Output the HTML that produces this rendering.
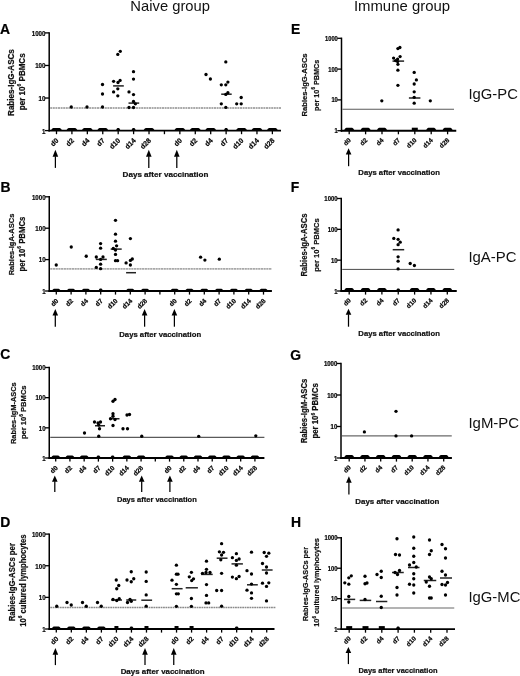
<!DOCTYPE html><html><head><meta charset="utf-8"><style>html,body{margin:0;padding:0;background:#fff;}svg{display:block;will-change:transform;}text{font-family:"Liberation Sans",sans-serif;}text[font-weight=bold]{stroke:#111;stroke-width:0.22px;}</style></head><body>
<svg width="520" height="676" viewBox="0 0 520 676">
<rect width="520" height="676" fill="#fff"/>
<g id="pA"><line x1="50.2" y1="108" x2="281" y2="108" stroke="#8f8f8f" stroke-width="1.7" stroke-dasharray="2 0.6"/><line x1="49.2" y1="32.2" x2="49.2" y2="131.6" stroke="#000" stroke-width="1.5"/><line x1="45" y1="130.6" x2="49.2" y2="130.6" stroke="#000" stroke-width="1.3"/><text x="45.5" y="133.52" font-size="7.3" font-weight="bold" text-anchor="end" textLength="3.45" lengthAdjust="spacingAndGlyphs" fill="#000">1</text><line x1="45" y1="98.03" x2="49.2" y2="98.03" stroke="#000" stroke-width="1.3"/><text x="45.5" y="100.95" font-size="7.3" font-weight="bold" text-anchor="end" textLength="6.9" lengthAdjust="spacingAndGlyphs" fill="#000">10</text><line x1="45" y1="65.47" x2="49.2" y2="65.47" stroke="#000" stroke-width="1.3"/><text x="45.5" y="68.39" font-size="7.3" font-weight="bold" text-anchor="end" textLength="10.35" lengthAdjust="spacingAndGlyphs" fill="#000">100</text><line x1="45" y1="32.9" x2="49.2" y2="32.9" stroke="#000" stroke-width="1.3"/><text x="45.5" y="35.82" font-size="7.3" font-weight="bold" text-anchor="end" textLength="13.8" lengthAdjust="spacingAndGlyphs" fill="#000">1000</text><line x1="48.45" y1="130.6" x2="281" y2="130.6" stroke="#000" stroke-width="1.9"/><line x1="56.5" y1="130.6" x2="56.5" y2="134.2" stroke="#000" stroke-width="1.3"/><path d="M50.5 130.9Q52.2 127.9 53.2 127.9L59.8 127.9Q60.8 127.9 62.5 130.9Z" fill="#000"/><text x="59.1" y="140.9" font-size="7" font-weight="bold" text-anchor="end" transform="rotate(-45 59.1 140.9)" fill="#000">d0</text><line x1="71.92" y1="130.6" x2="71.92" y2="134.2" stroke="#000" stroke-width="1.3"/><path d="M65.92 130.9Q67.62 127.9 68.62 127.9L75.22 127.9Q76.22 127.9 77.92 130.9Z" fill="#000"/><text x="74.52" y="140.9" font-size="7" font-weight="bold" text-anchor="end" transform="rotate(-45 74.52 140.9)" fill="#000">d2</text><line x1="87.34" y1="130.6" x2="87.34" y2="134.2" stroke="#000" stroke-width="1.3"/><path d="M81.34 130.9Q83.04 127.9 84.04 127.9L90.64 127.9Q91.64 127.9 93.34 130.9Z" fill="#000"/><text x="89.94" y="140.9" font-size="7" font-weight="bold" text-anchor="end" transform="rotate(-45 89.94 140.9)" fill="#000">d4</text><line x1="102.76" y1="130.6" x2="102.76" y2="134.2" stroke="#000" stroke-width="1.3"/><path d="M96.76 130.9Q98.46 127.9 99.46 127.9L106.06 127.9Q107.06 127.9 108.76 130.9Z" fill="#000"/><text x="105.36" y="140.9" font-size="7" font-weight="bold" text-anchor="end" transform="rotate(-45 105.36 140.9)" fill="#000">d7</text><line x1="118.18" y1="130.6" x2="118.18" y2="134.2" stroke="#000" stroke-width="1.3"/><path d="M115.78 130.9Q116.78 128 117.38 128L118.98 128Q119.58 128 120.58 130.9Z" fill="#000"/><text x="120.78" y="140.9" font-size="7" font-weight="bold" text-anchor="end" transform="rotate(-45 120.78 140.9)" fill="#000">d10</text><line x1="133.6" y1="130.6" x2="133.6" y2="134.2" stroke="#000" stroke-width="1.3"/><path d="M131.2 130.9Q132.2 128 132.8 128L134.4 128Q135 128 136 130.9Z" fill="#000"/><text x="136.2" y="140.9" font-size="7" font-weight="bold" text-anchor="end" transform="rotate(-45 136.2 140.9)" fill="#000">d14</text><line x1="149.02" y1="130.6" x2="149.02" y2="134.2" stroke="#000" stroke-width="1.3"/><path d="M143.02 130.9Q144.72 127.9 145.72 127.9L152.32 127.9Q153.32 127.9 155.02 130.9Z" fill="#000"/><text x="151.62" y="140.9" font-size="7" font-weight="bold" text-anchor="end" transform="rotate(-45 151.62 140.9)" fill="#000">d28</text><line x1="164.44" y1="130.6" x2="164.44" y2="134.2" stroke="#000" stroke-width="1.3"/><line x1="179.86" y1="130.6" x2="179.86" y2="134.2" stroke="#000" stroke-width="1.3"/><path d="M173.86 130.9Q175.56 127.9 176.56 127.9L183.16 127.9Q184.16 127.9 185.86 130.9Z" fill="#000"/><text x="182.46" y="140.9" font-size="7" font-weight="bold" text-anchor="end" transform="rotate(-45 182.46 140.9)" fill="#000">d0</text><line x1="195.28" y1="130.6" x2="195.28" y2="134.2" stroke="#000" stroke-width="1.3"/><path d="M189.28 130.9Q190.98 127.9 191.98 127.9L198.58 127.9Q199.58 127.9 201.28 130.9Z" fill="#000"/><text x="197.88" y="140.9" font-size="7" font-weight="bold" text-anchor="end" transform="rotate(-45 197.88 140.9)" fill="#000">d2</text><line x1="210.7" y1="130.6" x2="210.7" y2="134.2" stroke="#000" stroke-width="1.3"/><path d="M204.7 130.9Q206.4 127.9 207.4 127.9L214 127.9Q215 127.9 216.7 130.9Z" fill="#000"/><text x="213.3" y="140.9" font-size="7" font-weight="bold" text-anchor="end" transform="rotate(-45 213.3 140.9)" fill="#000">d4</text><line x1="226.12" y1="130.6" x2="226.12" y2="134.2" stroke="#000" stroke-width="1.3"/><path d="M223.72 130.9Q224.72 128 225.32 128L226.92 128Q227.52 128 228.52 130.9Z" fill="#000"/><text x="228.72" y="140.9" font-size="7" font-weight="bold" text-anchor="end" transform="rotate(-45 228.72 140.9)" fill="#000">d7</text><line x1="241.54" y1="130.6" x2="241.54" y2="134.2" stroke="#000" stroke-width="1.3"/><path d="M235.54 130.9Q237.24 127.9 238.24 127.9L244.84 127.9Q245.84 127.9 247.54 130.9Z" fill="#000"/><text x="244.14" y="140.9" font-size="7" font-weight="bold" text-anchor="end" transform="rotate(-45 244.14 140.9)" fill="#000">d10</text><line x1="256.96" y1="130.6" x2="256.96" y2="134.2" stroke="#000" stroke-width="1.3"/><path d="M250.96 130.9Q252.66 127.9 253.66 127.9L260.26 127.9Q261.26 127.9 262.96 130.9Z" fill="#000"/><text x="259.56" y="140.9" font-size="7" font-weight="bold" text-anchor="end" transform="rotate(-45 259.56 140.9)" fill="#000">d14</text><line x1="272.38" y1="130.6" x2="272.38" y2="134.2" stroke="#000" stroke-width="1.3"/><path d="M266.38 130.9Q268.08 127.9 269.08 127.9L275.68 127.9Q276.68 127.9 278.38 130.9Z" fill="#000"/><text x="274.98" y="140.9" font-size="7" font-weight="bold" text-anchor="end" transform="rotate(-45 274.98 140.9)" fill="#000">d28</text><line x1="113.1" y1="85.9" x2="123.8" y2="85.9" stroke="#222" stroke-width="1.5"/><line x1="128.5" y1="103.1" x2="139.2" y2="103.1" stroke="#222" stroke-width="1.5"/><line x1="221.2" y1="94.2" x2="231.7" y2="94.2" stroke="#222" stroke-width="1.5"/><circle cx="71.25" cy="107" r="1.65" fill="#000"/><circle cx="87" cy="107" r="1.65" fill="#000"/><circle cx="102.5" cy="84.5" r="1.65" fill="#000"/><circle cx="102.5" cy="94" r="1.65" fill="#000"/><circle cx="102.5" cy="107" r="1.65" fill="#000"/><circle cx="113.6" cy="81.3" r="1.65" fill="#000"/><circle cx="118" cy="82.5" r="1.65" fill="#000"/><circle cx="120.1" cy="80.4" r="1.65" fill="#000"/><circle cx="117.8" cy="88.8" r="1.65" fill="#000"/><circle cx="113.6" cy="91.9" r="1.65" fill="#000"/><circle cx="117.8" cy="95.8" r="1.65" fill="#000"/><circle cx="120.3" cy="51.3" r="1.65" fill="#000"/><circle cx="117.8" cy="54.4" r="1.65" fill="#000"/><circle cx="133.5" cy="71.7" r="1.65" fill="#000"/><circle cx="133.5" cy="79.1" r="1.65" fill="#000"/><circle cx="129" cy="91.9" r="1.65" fill="#000"/><circle cx="133.5" cy="94.6" r="1.65" fill="#000"/><circle cx="133.5" cy="101.5" r="1.65" fill="#000"/><circle cx="135.4" cy="103.8" r="1.65" fill="#000"/><circle cx="129" cy="107.5" r="1.65" fill="#000"/><circle cx="133.5" cy="107.5" r="1.65" fill="#000"/><circle cx="206" cy="74.5" r="1.65" fill="#000"/><circle cx="210.4" cy="79" r="1.65" fill="#000"/><circle cx="225.8" cy="61.9" r="1.65" fill="#000"/><circle cx="221.3" cy="84.8" r="1.65" fill="#000"/><circle cx="225.8" cy="84.8" r="1.65" fill="#000"/><circle cx="227.9" cy="82.1" r="1.65" fill="#000"/><circle cx="221.3" cy="103.8" r="1.65" fill="#000"/><circle cx="225.8" cy="107.4" r="1.65" fill="#000"/><circle cx="227.9" cy="92.7" r="1.65" fill="#000"/><circle cx="225.8" cy="94.4" r="1.65" fill="#000"/><circle cx="236.7" cy="103.8" r="1.65" fill="#000"/><circle cx="241.2" cy="103.8" r="1.65" fill="#000"/><circle cx="241.2" cy="97.5" r="1.65" fill="#000"/><line x1="55.4" y1="156.3" x2="55.4" y2="167.9" stroke="#000" stroke-width="1.25"/><path d="M55.4 149.8L52.6 156.8L58.2 156.8Z" fill="#000"/><line x1="148.8" y1="156.3" x2="148.8" y2="167.9" stroke="#000" stroke-width="1.25"/><path d="M148.8 149.8L146 156.8L151.6 156.8Z" fill="#000"/><line x1="176.8" y1="156.3" x2="176.8" y2="167.9" stroke="#000" stroke-width="1.25"/><path d="M176.8 149.8L174 156.8L179.6 156.8Z" fill="#000"/><text x="122.56" y="176.8" font-size="7.99" font-weight="bold" textLength="85.84" lengthAdjust="spacingAndGlyphs" fill="#111">Days after vaccination</text><text x="0.1" y="34" font-size="13.9" font-weight="bold" fill="#000">A</text><text x="0" y="0" font-size="8.6" font-weight="bold" transform="translate(13.8 115.94) rotate(-90)" textLength="66.77" lengthAdjust="spacingAndGlyphs" fill="#111">Rabies-IgG-ASCs</text><text x="0" y="0" font-size="8.54" font-weight="bold" transform="translate(25 110.13) rotate(-90)" textLength="56.76" lengthAdjust="spacingAndGlyphs" fill="#111">per&#160;10<tspan font-size="5.29" dy="-3.59">6</tspan><tspan dy="3.59">&#160;PBMCs</tspan></text></g>
<g id="pB"><line x1="50.25" y1="268.9" x2="271.9" y2="268.9" stroke="#a8a8a8" stroke-width="1.9" stroke-dasharray="2.2 0.5"/><line x1="49.25" y1="196.1" x2="49.25" y2="292" stroke="#000" stroke-width="1.5"/><line x1="45.05" y1="291" x2="49.25" y2="291" stroke="#000" stroke-width="1.3"/><text x="45.55" y="293.8" font-size="7" font-weight="bold" text-anchor="end" textLength="3.4" lengthAdjust="spacingAndGlyphs" fill="#000">1</text><line x1="45.05" y1="259.6" x2="49.25" y2="259.6" stroke="#000" stroke-width="1.3"/><text x="45.55" y="262.4" font-size="7" font-weight="bold" text-anchor="end" textLength="6.8" lengthAdjust="spacingAndGlyphs" fill="#000">10</text><line x1="45.05" y1="228.2" x2="49.25" y2="228.2" stroke="#000" stroke-width="1.3"/><text x="45.55" y="231" font-size="7" font-weight="bold" text-anchor="end" textLength="10.2" lengthAdjust="spacingAndGlyphs" fill="#000">100</text><line x1="45.05" y1="196.8" x2="49.25" y2="196.8" stroke="#000" stroke-width="1.3"/><text x="45.55" y="199.6" font-size="7" font-weight="bold" text-anchor="end" textLength="13.6" lengthAdjust="spacingAndGlyphs" fill="#000">1000</text><line x1="48.5" y1="291" x2="271.9" y2="291" stroke="#000" stroke-width="1.9"/><line x1="56.3" y1="291" x2="56.3" y2="294.6" stroke="#000" stroke-width="1.3"/><path d="M51.5 291.3Q52.9 288.7 53.9 288.7L58.7 288.7Q59.7 288.7 61.1 291.3Z" fill="#000"/><text x="58.9" y="301.3" font-size="6.6" font-weight="bold" text-anchor="end" transform="rotate(-45 58.9 301.3)" fill="#000">d0</text><line x1="71.1" y1="291" x2="71.1" y2="294.6" stroke="#000" stroke-width="1.3"/><path d="M66.3 291.3Q67.7 288.7 68.7 288.7L73.5 288.7Q74.5 288.7 75.9 291.3Z" fill="#000"/><text x="73.7" y="301.3" font-size="6.6" font-weight="bold" text-anchor="end" transform="rotate(-45 73.7 301.3)" fill="#000">d2</text><line x1="85.9" y1="291" x2="85.9" y2="294.6" stroke="#000" stroke-width="1.3"/><path d="M81.1 291.3Q82.5 288.7 83.5 288.7L88.3 288.7Q89.3 288.7 90.7 291.3Z" fill="#000"/><text x="88.5" y="301.3" font-size="6.6" font-weight="bold" text-anchor="end" transform="rotate(-45 88.5 301.3)" fill="#000">d4</text><line x1="100.7" y1="291" x2="100.7" y2="294.6" stroke="#000" stroke-width="1.3"/><path d="M98.3 291.3Q99.3 288.4 99.9 288.4L101.5 288.4Q102.1 288.4 103.1 291.3Z" fill="#000"/><text x="103.3" y="301.3" font-size="6.6" font-weight="bold" text-anchor="end" transform="rotate(-45 103.3 301.3)" fill="#000">d7</text><line x1="115.5" y1="291" x2="115.5" y2="294.6" stroke="#000" stroke-width="1.3"/><text x="118.1" y="301.3" font-size="6.6" font-weight="bold" text-anchor="end" transform="rotate(-45 118.1 301.3)" fill="#000">d10</text><line x1="130.3" y1="291" x2="130.3" y2="294.6" stroke="#000" stroke-width="1.3"/><path d="M125.5 291.3Q126.9 288.7 127.9 288.7L132.7 288.7Q133.7 288.7 135.1 291.3Z" fill="#000"/><text x="132.9" y="301.3" font-size="6.6" font-weight="bold" text-anchor="end" transform="rotate(-45 132.9 301.3)" fill="#000">d14</text><line x1="145.1" y1="291" x2="145.1" y2="294.6" stroke="#000" stroke-width="1.3"/><path d="M140.3 291.3Q141.7 288.7 142.7 288.7L147.5 288.7Q148.5 288.7 149.9 291.3Z" fill="#000"/><text x="147.7" y="301.3" font-size="6.6" font-weight="bold" text-anchor="end" transform="rotate(-45 147.7 301.3)" fill="#000">d28</text><line x1="159.9" y1="291" x2="159.9" y2="294.6" stroke="#000" stroke-width="1.3"/><line x1="174.7" y1="291" x2="174.7" y2="294.6" stroke="#000" stroke-width="1.3"/><path d="M169.9 291.3Q171.3 288.7 172.3 288.7L177.1 288.7Q178.1 288.7 179.5 291.3Z" fill="#000"/><text x="177.3" y="301.3" font-size="6.6" font-weight="bold" text-anchor="end" transform="rotate(-45 177.3 301.3)" fill="#000">d0</text><line x1="189.5" y1="291" x2="189.5" y2="294.6" stroke="#000" stroke-width="1.3"/><path d="M184.7 291.3Q186.1 288.7 187.1 288.7L191.9 288.7Q192.9 288.7 194.3 291.3Z" fill="#000"/><text x="192.1" y="301.3" font-size="6.6" font-weight="bold" text-anchor="end" transform="rotate(-45 192.1 301.3)" fill="#000">d2</text><line x1="204.3" y1="291" x2="204.3" y2="294.6" stroke="#000" stroke-width="1.3"/><path d="M199.5 291.3Q200.9 288.7 201.9 288.7L206.7 288.7Q207.7 288.7 209.1 291.3Z" fill="#000"/><text x="206.9" y="301.3" font-size="6.6" font-weight="bold" text-anchor="end" transform="rotate(-45 206.9 301.3)" fill="#000">d4</text><line x1="219.1" y1="291" x2="219.1" y2="294.6" stroke="#000" stroke-width="1.3"/><path d="M214.3 291.3Q215.7 288.7 216.7 288.7L221.5 288.7Q222.5 288.7 223.9 291.3Z" fill="#000"/><text x="221.7" y="301.3" font-size="6.6" font-weight="bold" text-anchor="end" transform="rotate(-45 221.7 301.3)" fill="#000">d7</text><line x1="233.9" y1="291" x2="233.9" y2="294.6" stroke="#000" stroke-width="1.3"/><path d="M229.1 291.3Q230.5 288.7 231.5 288.7L236.3 288.7Q237.3 288.7 238.7 291.3Z" fill="#000"/><text x="236.5" y="301.3" font-size="6.6" font-weight="bold" text-anchor="end" transform="rotate(-45 236.5 301.3)" fill="#000">d10</text><line x1="248.7" y1="291" x2="248.7" y2="294.6" stroke="#000" stroke-width="1.3"/><path d="M243.9 291.3Q245.3 288.7 246.3 288.7L251.1 288.7Q252.1 288.7 253.5 291.3Z" fill="#000"/><text x="251.3" y="301.3" font-size="6.6" font-weight="bold" text-anchor="end" transform="rotate(-45 251.3 301.3)" fill="#000">d14</text><line x1="263.5" y1="291" x2="263.5" y2="294.6" stroke="#000" stroke-width="1.3"/><path d="M258.7 291.3Q260.1 288.7 261.1 288.7L265.9 288.7Q266.9 288.7 268.3 291.3Z" fill="#000"/><text x="266.1" y="301.3" font-size="6.6" font-weight="bold" text-anchor="end" transform="rotate(-45 266.1 301.3)" fill="#000">d28</text><line x1="95.8" y1="259.4" x2="106.8" y2="259.4" stroke="#222" stroke-width="1.5"/><line x1="110.7" y1="249.1" x2="121.7" y2="249.1" stroke="#222" stroke-width="1.5"/><line x1="126.1" y1="272.7" x2="136" y2="272.7" stroke="#222" stroke-width="1.5"/><circle cx="56.25" cy="265" r="1.65" fill="#000"/><circle cx="71.25" cy="247" r="1.65" fill="#000"/><circle cx="86.25" cy="256.25" r="1.65" fill="#000"/><circle cx="100.6" cy="243.6" r="1.65" fill="#000"/><circle cx="100.6" cy="248.2" r="1.65" fill="#000"/><circle cx="96.3" cy="257" r="1.65" fill="#000"/><circle cx="103" cy="257" r="1.65" fill="#000"/><circle cx="100.6" cy="259.4" r="1.65" fill="#000"/><circle cx="96.3" cy="267.4" r="1.65" fill="#000"/><circle cx="100.6" cy="268.7" r="1.65" fill="#000"/><circle cx="100.6" cy="264.2" r="1.65" fill="#000"/><circle cx="115.5" cy="220.3" r="1.65" fill="#000"/><circle cx="115.5" cy="234.2" r="1.65" fill="#000"/><circle cx="115.5" cy="241.2" r="1.65" fill="#000"/><circle cx="116.6" cy="245.8" r="1.65" fill="#000"/><circle cx="113.3" cy="248.5" r="1.65" fill="#000"/><circle cx="115.5" cy="250" r="1.65" fill="#000"/><circle cx="115.5" cy="254.4" r="1.65" fill="#000"/><circle cx="115.5" cy="260.7" r="1.65" fill="#000"/><circle cx="117.6" cy="260.7" r="1.65" fill="#000"/><circle cx="130.4" cy="238.6" r="1.65" fill="#000"/><circle cx="132.3" cy="259" r="1.65" fill="#000"/><circle cx="130.4" cy="260.4" r="1.65" fill="#000"/><circle cx="126.1" cy="262.9" r="1.65" fill="#000"/><circle cx="130.4" cy="265" r="1.65" fill="#000"/><circle cx="200.6" cy="257.2" r="1.65" fill="#000"/><circle cx="204.9" cy="260.1" r="1.65" fill="#000"/><circle cx="219.3" cy="259.2" r="1.65" fill="#000"/><line x1="55.3" y1="315.1" x2="55.3" y2="326.7" stroke="#000" stroke-width="1.25"/><path d="M55.3 308.9L52.5 315.6L58.1 315.6Z" fill="#000"/><line x1="144.6" y1="315.1" x2="144.6" y2="326.7" stroke="#000" stroke-width="1.25"/><path d="M144.6 308.9L141.8 315.6L147.4 315.6Z" fill="#000"/><line x1="174.4" y1="315.1" x2="174.4" y2="326.7" stroke="#000" stroke-width="1.25"/><path d="M174.4 308.9L171.6 315.6L177.2 315.6Z" fill="#000"/><text x="119.28" y="336.8" font-size="7.62" font-weight="bold" textLength="81.89" lengthAdjust="spacingAndGlyphs" fill="#111">Days after vaccination</text><text x="0.5" y="191.9" font-size="13.9" font-weight="bold" fill="#000">B</text><text x="0" y="0" font-size="7.98" font-weight="bold" transform="translate(13.9 275.3) rotate(-90)" textLength="61.61" lengthAdjust="spacingAndGlyphs" fill="#111">Rabies-IgA-ASCs</text><text x="0" y="0" font-size="8.25" font-weight="bold" transform="translate(24.8 271.51) rotate(-90)" textLength="54.83" lengthAdjust="spacingAndGlyphs" fill="#111">per&#160;10<tspan font-size="5.11" dy="-3.46">6</tspan><tspan dy="3.46">&#160;PBMCs</tspan></text></g>
<g id="pC"><line x1="50.25" y1="437.3" x2="264.4" y2="437.3" stroke="#5a5a5a" stroke-width="1.3"/><line x1="49.25" y1="366.8" x2="49.25" y2="459" stroke="#000" stroke-width="1.5"/><line x1="45.05" y1="458" x2="49.25" y2="458" stroke="#000" stroke-width="1.3"/><text x="45.55" y="460.8" font-size="7" font-weight="bold" text-anchor="end" textLength="3.35" lengthAdjust="spacingAndGlyphs" fill="#000">1</text><line x1="45.05" y1="427.83" x2="49.25" y2="427.83" stroke="#000" stroke-width="1.3"/><text x="45.55" y="430.63" font-size="7" font-weight="bold" text-anchor="end" textLength="6.7" lengthAdjust="spacingAndGlyphs" fill="#000">10</text><line x1="45.05" y1="397.67" x2="49.25" y2="397.67" stroke="#000" stroke-width="1.3"/><text x="45.55" y="400.47" font-size="7" font-weight="bold" text-anchor="end" textLength="10.05" lengthAdjust="spacingAndGlyphs" fill="#000">100</text><line x1="45.05" y1="367.5" x2="49.25" y2="367.5" stroke="#000" stroke-width="1.3"/><text x="45.55" y="370.3" font-size="7" font-weight="bold" text-anchor="end" textLength="13.4" lengthAdjust="spacingAndGlyphs" fill="#000">1000</text><line x1="48.5" y1="458" x2="264.4" y2="458" stroke="#000" stroke-width="1.9"/><line x1="55.7" y1="458" x2="55.7" y2="461.6" stroke="#000" stroke-width="1.3"/><path d="M50.7 458.3Q52.1 455.5 53.1 455.5L58.3 455.5Q59.3 455.5 60.7 458.3Z" fill="#000"/><text x="58.3" y="468.3" font-size="6.6" font-weight="bold" text-anchor="end" transform="rotate(-45 58.3 468.3)" fill="#000">d0</text><line x1="69.93" y1="458" x2="69.93" y2="461.6" stroke="#000" stroke-width="1.3"/><path d="M64.93 458.3Q66.33 455.5 67.33 455.5L72.53 455.5Q73.53 455.5 74.93 458.3Z" fill="#000"/><text x="72.53" y="468.3" font-size="6.6" font-weight="bold" text-anchor="end" transform="rotate(-45 72.53 468.3)" fill="#000">d2</text><line x1="84.16" y1="458" x2="84.16" y2="461.6" stroke="#000" stroke-width="1.3"/><path d="M79.16 458.3Q80.56 455.5 81.56 455.5L86.76 455.5Q87.76 455.5 89.16 458.3Z" fill="#000"/><text x="86.76" y="468.3" font-size="6.6" font-weight="bold" text-anchor="end" transform="rotate(-45 86.76 468.3)" fill="#000">d4</text><line x1="98.39" y1="458" x2="98.39" y2="461.6" stroke="#000" stroke-width="1.3"/><path d="M95.99 458.3Q96.99 455.4 97.59 455.4L99.19 455.4Q99.79 455.4 100.79 458.3Z" fill="#000"/><text x="100.99" y="468.3" font-size="6.6" font-weight="bold" text-anchor="end" transform="rotate(-45 100.99 468.3)" fill="#000">d7</text><line x1="112.62" y1="458" x2="112.62" y2="461.6" stroke="#000" stroke-width="1.3"/><path d="M110.22 458.3Q111.22 455.4 111.82 455.4L113.42 455.4Q114.02 455.4 115.02 458.3Z" fill="#000"/><text x="115.22" y="468.3" font-size="6.6" font-weight="bold" text-anchor="end" transform="rotate(-45 115.22 468.3)" fill="#000">d10</text><line x1="126.85" y1="458" x2="126.85" y2="461.6" stroke="#000" stroke-width="1.3"/><path d="M121.85 458.3Q123.25 455.5 124.25 455.5L129.45 455.5Q130.45 455.5 131.85 458.3Z" fill="#000"/><text x="129.45" y="468.3" font-size="6.6" font-weight="bold" text-anchor="end" transform="rotate(-45 129.45 468.3)" fill="#000">d14</text><line x1="141.08" y1="458" x2="141.08" y2="461.6" stroke="#000" stroke-width="1.3"/><path d="M136.08 458.3Q137.48 455.5 138.48 455.5L143.68 455.5Q144.68 455.5 146.08 458.3Z" fill="#000"/><text x="143.68" y="468.3" font-size="6.6" font-weight="bold" text-anchor="end" transform="rotate(-45 143.68 468.3)" fill="#000">d28</text><line x1="155.31" y1="458" x2="155.31" y2="461.6" stroke="#000" stroke-width="1.3"/><line x1="169.54" y1="458" x2="169.54" y2="461.6" stroke="#000" stroke-width="1.3"/><path d="M164.54 458.3Q165.94 455.5 166.94 455.5L172.14 455.5Q173.14 455.5 174.54 458.3Z" fill="#000"/><text x="172.14" y="468.3" font-size="6.6" font-weight="bold" text-anchor="end" transform="rotate(-45 172.14 468.3)" fill="#000">d0</text><line x1="183.77" y1="458" x2="183.77" y2="461.6" stroke="#000" stroke-width="1.3"/><path d="M178.77 458.3Q180.17 455.5 181.17 455.5L186.37 455.5Q187.37 455.5 188.77 458.3Z" fill="#000"/><text x="186.37" y="468.3" font-size="6.6" font-weight="bold" text-anchor="end" transform="rotate(-45 186.37 468.3)" fill="#000">d2</text><line x1="198" y1="458" x2="198" y2="461.6" stroke="#000" stroke-width="1.3"/><path d="M193 458.3Q194.4 455.5 195.4 455.5L200.6 455.5Q201.6 455.5 203 458.3Z" fill="#000"/><text x="200.6" y="468.3" font-size="6.6" font-weight="bold" text-anchor="end" transform="rotate(-45 200.6 468.3)" fill="#000">d4</text><line x1="212.23" y1="458" x2="212.23" y2="461.6" stroke="#000" stroke-width="1.3"/><path d="M207.23 458.3Q208.63 455.5 209.63 455.5L214.83 455.5Q215.83 455.5 217.23 458.3Z" fill="#000"/><text x="214.83" y="468.3" font-size="6.6" font-weight="bold" text-anchor="end" transform="rotate(-45 214.83 468.3)" fill="#000">d7</text><line x1="226.46" y1="458" x2="226.46" y2="461.6" stroke="#000" stroke-width="1.3"/><path d="M221.46 458.3Q222.86 455.5 223.86 455.5L229.06 455.5Q230.06 455.5 231.46 458.3Z" fill="#000"/><text x="229.06" y="468.3" font-size="6.6" font-weight="bold" text-anchor="end" transform="rotate(-45 229.06 468.3)" fill="#000">d10</text><line x1="240.69" y1="458" x2="240.69" y2="461.6" stroke="#000" stroke-width="1.3"/><path d="M235.69 458.3Q237.09 455.5 238.09 455.5L243.29 455.5Q244.29 455.5 245.69 458.3Z" fill="#000"/><text x="243.29" y="468.3" font-size="6.6" font-weight="bold" text-anchor="end" transform="rotate(-45 243.29 468.3)" fill="#000">d14</text><line x1="254.92" y1="458" x2="254.92" y2="461.6" stroke="#000" stroke-width="1.3"/><path d="M249.92 458.3Q251.32 455.5 252.32 455.5L257.52 455.5Q258.52 455.5 259.92 458.3Z" fill="#000"/><text x="257.52" y="468.3" font-size="6.6" font-weight="bold" text-anchor="end" transform="rotate(-45 257.52 468.3)" fill="#000">d28</text><line x1="95" y1="425.75" x2="105" y2="425.75" stroke="#222" stroke-width="1.5"/><line x1="109.5" y1="418.75" x2="119.5" y2="418.75" stroke="#222" stroke-width="1.5"/><circle cx="84.5" cy="433" r="1.65" fill="#000"/><circle cx="94.5" cy="422" r="1.65" fill="#000"/><circle cx="98" cy="423" r="1.65" fill="#000"/><circle cx="100.5" cy="422" r="1.65" fill="#000"/><circle cx="98.75" cy="425" r="1.65" fill="#000"/><circle cx="99.5" cy="428.75" r="1.65" fill="#000"/><circle cx="98.75" cy="436.25" r="1.65" fill="#000"/><circle cx="113" cy="401.25" r="1.65" fill="#000"/><circle cx="115" cy="399.5" r="1.65" fill="#000"/><circle cx="113" cy="413.75" r="1.65" fill="#000"/><circle cx="113" cy="416.25" r="1.65" fill="#000"/><circle cx="110.5" cy="418.75" r="1.65" fill="#000"/><circle cx="115" cy="419.5" r="1.65" fill="#000"/><circle cx="113" cy="425.5" r="1.65" fill="#000"/><circle cx="127" cy="415" r="1.65" fill="#000"/><circle cx="129.5" cy="414.5" r="1.65" fill="#000"/><circle cx="123" cy="428.75" r="1.65" fill="#000"/><circle cx="127.5" cy="428.75" r="1.65" fill="#000"/><circle cx="141.75" cy="436.25" r="1.65" fill="#000"/><circle cx="198.7" cy="436.3" r="1.65" fill="#000"/><circle cx="255.8" cy="435.8" r="1.65" fill="#000"/><line x1="54.8" y1="481.2" x2="54.8" y2="492" stroke="#000" stroke-width="1.25"/><path d="M54.8 475.5L52 481.7L57.6 481.7Z" fill="#000"/><line x1="141.7" y1="481.2" x2="141.7" y2="492" stroke="#000" stroke-width="1.25"/><path d="M141.7 475.5L138.9 481.7L144.5 481.7Z" fill="#000"/><line x1="169.9" y1="481.2" x2="169.9" y2="492" stroke="#000" stroke-width="1.25"/><path d="M169.9 475.5L167.1 481.7L172.7 481.7Z" fill="#000"/><text x="117" y="502" font-size="7.42" font-weight="bold" textLength="79.77" lengthAdjust="spacingAndGlyphs" fill="#111">Days after vaccination</text><text x="0.2" y="358.9" font-size="13.9" font-weight="bold" fill="#000">C</text><text x="0" y="0" font-size="7.9" font-weight="bold" transform="translate(15.8 444.1) rotate(-90)" textLength="61.8" lengthAdjust="spacingAndGlyphs" fill="#111">Rabies-IgM-ASCs</text><text x="0" y="0" font-size="8.08" font-weight="bold" transform="translate(26.4 439.1) rotate(-90)" textLength="53.71" lengthAdjust="spacingAndGlyphs" fill="#111">per&#160;10<tspan font-size="5.01" dy="-3.39">6</tspan><tspan dy="3.39">&#160;PBMCs</tspan></text></g>
<g id="pD"><line x1="50.25" y1="607.5" x2="276" y2="607.5" stroke="#8a8a8a" stroke-width="1.3" stroke-dasharray="1.8 0.6"/><line x1="49.25" y1="533.4" x2="49.25" y2="630" stroke="#000" stroke-width="1.5"/><line x1="45.05" y1="629" x2="49.25" y2="629" stroke="#000" stroke-width="1.3"/><text x="45.55" y="631.8" font-size="7" font-weight="bold" text-anchor="end" textLength="3.4" lengthAdjust="spacingAndGlyphs" fill="#000">1</text><line x1="45.05" y1="597.37" x2="49.25" y2="597.37" stroke="#000" stroke-width="1.3"/><text x="45.55" y="600.17" font-size="7" font-weight="bold" text-anchor="end" textLength="6.8" lengthAdjust="spacingAndGlyphs" fill="#000">10</text><line x1="45.05" y1="565.73" x2="49.25" y2="565.73" stroke="#000" stroke-width="1.3"/><text x="45.55" y="568.53" font-size="7" font-weight="bold" text-anchor="end" textLength="10.2" lengthAdjust="spacingAndGlyphs" fill="#000">100</text><line x1="45.05" y1="534.1" x2="49.25" y2="534.1" stroke="#000" stroke-width="1.3"/><text x="45.55" y="536.9" font-size="7" font-weight="bold" text-anchor="end" textLength="13.6" lengthAdjust="spacingAndGlyphs" fill="#000">1000</text><line x1="48.5" y1="629" x2="274.5" y2="629" stroke="#000" stroke-width="1.9"/><line x1="56.3" y1="629" x2="56.3" y2="632.6" stroke="#000" stroke-width="1.3"/><path d="M51.3 629.3Q52.7 626.6 53.7 626.6L58.9 626.6Q59.9 626.6 61.3 629.3Z" fill="#000"/><text x="58.9" y="639.3" font-size="6.8" font-weight="bold" text-anchor="end" transform="rotate(-45 58.9 639.3)" fill="#000">d0</text><line x1="71.33" y1="629" x2="71.33" y2="632.6" stroke="#000" stroke-width="1.3"/><path d="M66.33 629.3Q67.73 626.6 68.73 626.6L73.93 626.6Q74.93 626.6 76.33 629.3Z" fill="#000"/><text x="73.93" y="639.3" font-size="6.8" font-weight="bold" text-anchor="end" transform="rotate(-45 73.93 639.3)" fill="#000">d2</text><line x1="86.36" y1="629" x2="86.36" y2="632.6" stroke="#000" stroke-width="1.3"/><path d="M81.36 629.3Q82.76 626.6 83.76 626.6L88.96 626.6Q89.96 626.6 91.36 629.3Z" fill="#000"/><text x="88.96" y="639.3" font-size="6.8" font-weight="bold" text-anchor="end" transform="rotate(-45 88.96 639.3)" fill="#000">d4</text><line x1="101.39" y1="629" x2="101.39" y2="632.6" stroke="#000" stroke-width="1.3"/><path d="M96.39 629.3Q97.79 626.6 98.79 626.6L103.99 626.6Q104.99 626.6 106.39 629.3Z" fill="#000"/><text x="103.99" y="639.3" font-size="6.8" font-weight="bold" text-anchor="end" transform="rotate(-45 103.99 639.3)" fill="#000">d7</text><line x1="116.42" y1="629" x2="116.42" y2="632.6" stroke="#000" stroke-width="1.3"/><rect x="114.42" y="626" width="4" height="3" fill="#000"/><text x="119.02" y="639.3" font-size="6.8" font-weight="bold" text-anchor="end" transform="rotate(-45 119.02 639.3)" fill="#000">d10</text><line x1="131.45" y1="629" x2="131.45" y2="632.6" stroke="#000" stroke-width="1.3"/><path d="M129.05 629.3Q130.05 626.4 130.65 626.4L132.25 626.4Q132.85 626.4 133.85 629.3Z" fill="#000"/><text x="134.05" y="639.3" font-size="6.8" font-weight="bold" text-anchor="end" transform="rotate(-45 134.05 639.3)" fill="#000">d14</text><line x1="146.48" y1="629" x2="146.48" y2="632.6" stroke="#000" stroke-width="1.3"/><rect x="144.48" y="626" width="4" height="3" fill="#000"/><text x="149.08" y="639.3" font-size="6.8" font-weight="bold" text-anchor="end" transform="rotate(-45 149.08 639.3)" fill="#000">d28</text><line x1="161.51" y1="629" x2="161.51" y2="632.6" stroke="#000" stroke-width="1.3"/><line x1="176.54" y1="629" x2="176.54" y2="632.6" stroke="#000" stroke-width="1.3"/><rect x="174.54" y="626" width="4" height="3" fill="#000"/><text x="179.14" y="639.3" font-size="6.8" font-weight="bold" text-anchor="end" transform="rotate(-45 179.14 639.3)" fill="#000">d0</text><line x1="191.57" y1="629" x2="191.57" y2="632.6" stroke="#000" stroke-width="1.3"/><rect x="189.57" y="626" width="4" height="3" fill="#000"/><text x="194.17" y="639.3" font-size="6.8" font-weight="bold" text-anchor="end" transform="rotate(-45 194.17 639.3)" fill="#000">d2</text><line x1="206.6" y1="629" x2="206.6" y2="632.6" stroke="#000" stroke-width="1.3"/><text x="209.2" y="639.3" font-size="6.8" font-weight="bold" text-anchor="end" transform="rotate(-45 209.2 639.3)" fill="#000">d4</text><line x1="221.63" y1="629" x2="221.63" y2="632.6" stroke="#000" stroke-width="1.3"/><text x="224.23" y="639.3" font-size="6.8" font-weight="bold" text-anchor="end" transform="rotate(-45 224.23 639.3)" fill="#000">d7</text><line x1="236.66" y1="629" x2="236.66" y2="632.6" stroke="#000" stroke-width="1.3"/><path d="M234.26 629.3Q235.26 626.4 235.86 626.4L237.46 626.4Q238.06 626.4 239.06 629.3Z" fill="#000"/><text x="239.26" y="639.3" font-size="6.8" font-weight="bold" text-anchor="end" transform="rotate(-45 239.26 639.3)" fill="#000">d10</text><line x1="251.69" y1="629" x2="251.69" y2="632.6" stroke="#000" stroke-width="1.3"/><text x="254.29" y="639.3" font-size="6.8" font-weight="bold" text-anchor="end" transform="rotate(-45 254.29 639.3)" fill="#000">d14</text><line x1="266.72" y1="629" x2="266.72" y2="632.6" stroke="#000" stroke-width="1.3"/><text x="269.32" y="639.3" font-size="6.8" font-weight="bold" text-anchor="end" transform="rotate(-45 269.32 639.3)" fill="#000">d28</text><line x1="111.25" y1="600" x2="122" y2="600" stroke="#222" stroke-width="1.5"/><line x1="126.25" y1="600" x2="136.25" y2="600" stroke="#222" stroke-width="1.5"/><line x1="141.3" y1="600.2" x2="152.1" y2="600.2" stroke="#222" stroke-width="1.5"/><line x1="171.7" y1="588.7" x2="182.6" y2="588.7" stroke="#222" stroke-width="1.5"/><line x1="185.7" y1="587.8" x2="197.9" y2="587.8" stroke="#222" stroke-width="1.5"/><line x1="201.1" y1="574.4" x2="212.7" y2="574.4" stroke="#222" stroke-width="1.5"/><line x1="216.7" y1="558.2" x2="227.5" y2="558.2" stroke="#222" stroke-width="1.5"/><line x1="231.5" y1="563.9" x2="242.9" y2="563.9" stroke="#222" stroke-width="1.5"/><line x1="247" y1="584.8" x2="257.8" y2="584.8" stroke="#222" stroke-width="1.5"/><line x1="261.8" y1="570" x2="272.6" y2="570" stroke="#222" stroke-width="1.5"/><circle cx="56.75" cy="606.25" r="1.65" fill="#000"/><circle cx="67" cy="602.5" r="1.65" fill="#000"/><circle cx="71.25" cy="605" r="1.65" fill="#000"/><circle cx="82.5" cy="602.5" r="1.65" fill="#000"/><circle cx="86.25" cy="606.25" r="1.65" fill="#000"/><circle cx="97.5" cy="602.5" r="1.65" fill="#000"/><circle cx="101.25" cy="606.25" r="1.65" fill="#000"/><circle cx="116.25" cy="580" r="1.65" fill="#000"/><circle cx="116.75" cy="588.75" r="1.65" fill="#000"/><circle cx="118.75" cy="585.5" r="1.65" fill="#000"/><circle cx="113" cy="599.5" r="1.65" fill="#000"/><circle cx="116.75" cy="600.5" r="1.65" fill="#000"/><circle cx="119.25" cy="598.75" r="1.65" fill="#000"/><circle cx="131.25" cy="571.75" r="1.65" fill="#000"/><circle cx="127" cy="580" r="1.65" fill="#000"/><circle cx="131.25" cy="581.75" r="1.65" fill="#000"/><circle cx="133.75" cy="578.75" r="1.65" fill="#000"/><circle cx="127.5" cy="602.5" r="1.65" fill="#000"/><circle cx="131.25" cy="601.25" r="1.65" fill="#000"/><circle cx="130" cy="599.5" r="1.65" fill="#000"/><circle cx="146.2" cy="572" r="1.65" fill="#000"/><circle cx="146.2" cy="581.4" r="1.65" fill="#000"/><circle cx="146.2" cy="594.9" r="1.65" fill="#000"/><circle cx="146.2" cy="606.2" r="1.65" fill="#000"/><circle cx="176.4" cy="565.2" r="1.65" fill="#000"/><circle cx="172" cy="580.2" r="1.65" fill="#000"/><circle cx="176.4" cy="574.2" r="1.65" fill="#000"/><circle cx="178" cy="574.2" r="1.65" fill="#000"/><circle cx="176.4" cy="584.3" r="1.65" fill="#000"/><circle cx="176.4" cy="593.8" r="1.65" fill="#000"/><circle cx="178.3" cy="593.8" r="1.65" fill="#000"/><circle cx="176.4" cy="606.3" r="1.65" fill="#000"/><circle cx="191.4" cy="572.3" r="1.65" fill="#000"/><circle cx="189.3" cy="576.8" r="1.65" fill="#000"/><circle cx="193.5" cy="578.8" r="1.65" fill="#000"/><circle cx="191.7" cy="580.6" r="1.65" fill="#000"/><circle cx="191.4" cy="598.5" r="1.65" fill="#000"/><circle cx="191.4" cy="606.3" r="1.65" fill="#000"/><circle cx="206.5" cy="561.2" r="1.65" fill="#000"/><circle cx="206.5" cy="569.3" r="1.65" fill="#000"/><circle cx="202.5" cy="573.3" r="1.65" fill="#000"/><circle cx="206" cy="572.5" r="1.65" fill="#000"/><circle cx="210" cy="572.5" r="1.65" fill="#000"/><circle cx="206.5" cy="584.6" r="1.65" fill="#000"/><circle cx="206.5" cy="595.4" r="1.65" fill="#000"/><circle cx="206" cy="602.9" r="1.65" fill="#000"/><circle cx="208.7" cy="602.9" r="1.65" fill="#000"/><circle cx="221.6" cy="543.7" r="1.65" fill="#000"/><circle cx="219.4" cy="551.8" r="1.65" fill="#000"/><circle cx="223.5" cy="552.3" r="1.65" fill="#000"/><circle cx="221.6" cy="555" r="1.65" fill="#000"/><circle cx="220.8" cy="559.8" r="1.65" fill="#000"/><circle cx="221.6" cy="573.3" r="1.65" fill="#000"/><circle cx="216.7" cy="590.5" r="1.65" fill="#000"/><circle cx="221.6" cy="590.5" r="1.65" fill="#000"/><circle cx="221.6" cy="606.2" r="1.65" fill="#000"/><circle cx="236.4" cy="553.7" r="1.65" fill="#000"/><circle cx="232.4" cy="557.7" r="1.65" fill="#000"/><circle cx="236.4" cy="560.4" r="1.65" fill="#000"/><circle cx="239.1" cy="559" r="1.65" fill="#000"/><circle cx="236.4" cy="565.2" r="1.65" fill="#000"/><circle cx="232.4" cy="577.1" r="1.65" fill="#000"/><circle cx="236.4" cy="578.7" r="1.65" fill="#000"/><circle cx="239.1" cy="576.5" r="1.65" fill="#000"/><circle cx="251.5" cy="552.2" r="1.65" fill="#000"/><circle cx="247" cy="570.7" r="1.65" fill="#000"/><circle cx="251.5" cy="574" r="1.65" fill="#000"/><circle cx="247" cy="590.2" r="1.65" fill="#000"/><circle cx="251.5" cy="592.9" r="1.65" fill="#000"/><circle cx="251.5" cy="598.3" r="1.65" fill="#000"/><circle cx="251.5" cy="584.1" r="1.65" fill="#000"/><circle cx="264.2" cy="552.5" r="1.65" fill="#000"/><circle cx="268.8" cy="553.2" r="1.65" fill="#000"/><circle cx="266.5" cy="556.3" r="1.65" fill="#000"/><circle cx="262.5" cy="563.5" r="1.65" fill="#000"/><circle cx="266.5" cy="567" r="1.65" fill="#000"/><circle cx="266.5" cy="573" r="1.65" fill="#000"/><circle cx="262.5" cy="583.2" r="1.65" fill="#000"/><circle cx="268.8" cy="582.8" r="1.65" fill="#000"/><circle cx="266.5" cy="586.4" r="1.65" fill="#000"/><circle cx="266.5" cy="600.9" r="1.65" fill="#000"/><line x1="55.4" y1="654.2" x2="55.4" y2="665.1" stroke="#000" stroke-width="1.25"/><path d="M55.4 648L52.6 654.7L58.2 654.7Z" fill="#000"/><line x1="145" y1="654.2" x2="145" y2="665.1" stroke="#000" stroke-width="1.25"/><path d="M145 648L142.2 654.7L147.8 654.7Z" fill="#000"/><line x1="173.75" y1="654.2" x2="173.75" y2="665.1" stroke="#000" stroke-width="1.25"/><path d="M173.75 648L170.95 654.7L176.55 654.7Z" fill="#000"/><text x="120.67" y="674.1" font-size="7.82" font-weight="bold" textLength="84.02" lengthAdjust="spacingAndGlyphs" fill="#111">Days after vaccination</text><text x="0.3" y="526.6" font-size="13.9" font-weight="bold" fill="#000">D</text><text x="0" y="0" font-size="8.29" font-weight="bold" transform="translate(15.2 621.32) rotate(-90)" textLength="78.23" lengthAdjust="spacingAndGlyphs" fill="#111">Rabies-IgG-ASCs&#160;per</text><text x="0" y="0" font-size="8.2" font-weight="bold" transform="translate(25.9 626.78) rotate(-90)" textLength="92.4" lengthAdjust="spacingAndGlyphs" fill="#111">10<tspan font-size="5.08" dy="-3.44">6</tspan><tspan dy="3.44">&#160;cultured&#160;lymphocytes</tspan></text></g>
<g id="pE"><line x1="342.5" y1="109.2" x2="454" y2="109.2" stroke="#5a5a5a" stroke-width="1.1"/><line x1="341.5" y1="37.6" x2="341.5" y2="131.7" stroke="#000" stroke-width="1.5"/><line x1="337.3" y1="130.7" x2="341.5" y2="130.7" stroke="#000" stroke-width="1.3"/><text x="337.8" y="133.26" font-size="6.4" font-weight="bold" text-anchor="end" textLength="3.2" lengthAdjust="spacingAndGlyphs" fill="#000">1</text><line x1="337.3" y1="99.9" x2="341.5" y2="99.9" stroke="#000" stroke-width="1.3"/><text x="337.8" y="102.46" font-size="6.4" font-weight="bold" text-anchor="end" textLength="6.4" lengthAdjust="spacingAndGlyphs" fill="#000">10</text><line x1="337.3" y1="69.1" x2="341.5" y2="69.1" stroke="#000" stroke-width="1.3"/><text x="337.8" y="71.66" font-size="6.4" font-weight="bold" text-anchor="end" textLength="9.6" lengthAdjust="spacingAndGlyphs" fill="#000">100</text><line x1="337.3" y1="38.3" x2="341.5" y2="38.3" stroke="#000" stroke-width="1.3"/><text x="337.8" y="40.86" font-size="6.4" font-weight="bold" text-anchor="end" textLength="12.8" lengthAdjust="spacingAndGlyphs" fill="#000">1000</text><line x1="340.75" y1="130.7" x2="456.25" y2="130.7" stroke="#000" stroke-width="1.9"/><line x1="349.2" y1="130.7" x2="349.2" y2="134.3" stroke="#000" stroke-width="1.3"/><path d="M343.6 131Q345.3 127.8 346.3 127.8L352.1 127.8Q353.1 127.8 354.8 131Z" fill="#000"/><text x="351.4" y="140.6" font-size="6.5" font-weight="bold" text-anchor="end" transform="rotate(-45 351.4 140.6)" fill="#000">d0</text><line x1="365.6" y1="130.7" x2="365.6" y2="134.3" stroke="#000" stroke-width="1.3"/><path d="M360 131Q361.7 127.8 362.7 127.8L368.5 127.8Q369.5 127.8 371.2 131Z" fill="#000"/><text x="367.8" y="140.6" font-size="6.5" font-weight="bold" text-anchor="end" transform="rotate(-45 367.8 140.6)" fill="#000">d2</text><line x1="382" y1="130.7" x2="382" y2="134.3" stroke="#000" stroke-width="1.3"/><path d="M376.4 131Q378.1 127.8 379.1 127.8L384.9 127.8Q385.9 127.8 387.6 131Z" fill="#000"/><text x="384.2" y="140.6" font-size="6.5" font-weight="bold" text-anchor="end" transform="rotate(-45 384.2 140.6)" fill="#000">d4</text><line x1="398.4" y1="130.7" x2="398.4" y2="134.3" stroke="#000" stroke-width="1.3"/><text x="400.6" y="140.6" font-size="6.5" font-weight="bold" text-anchor="end" transform="rotate(-45 400.6 140.6)" fill="#000">d7</text><line x1="414.8" y1="130.7" x2="414.8" y2="134.3" stroke="#000" stroke-width="1.3"/><rect x="411.8" y="127.7" width="6" height="3" fill="#000"/><text x="417" y="140.6" font-size="6.5" font-weight="bold" text-anchor="end" transform="rotate(-45 417 140.6)" fill="#000">d10</text><line x1="431.2" y1="130.7" x2="431.2" y2="134.3" stroke="#000" stroke-width="1.3"/><path d="M425.6 131Q427.3 127.8 428.3 127.8L434.1 127.8Q435.1 127.8 436.8 131Z" fill="#000"/><text x="433.4" y="140.6" font-size="6.5" font-weight="bold" text-anchor="end" transform="rotate(-45 433.4 140.6)" fill="#000">d14</text><line x1="447.6" y1="130.7" x2="447.6" y2="134.3" stroke="#000" stroke-width="1.3"/><path d="M442 131Q443.7 127.8 444.7 127.8L450.5 127.8Q451.5 127.8 453.2 131Z" fill="#000"/><text x="449.8" y="140.6" font-size="6.5" font-weight="bold" text-anchor="end" transform="rotate(-45 449.8 140.6)" fill="#000">d28</text><line x1="392.5" y1="61.1" x2="404.1" y2="61.1" stroke="#222" stroke-width="1.5"/><line x1="408.9" y1="98" x2="420.4" y2="98" stroke="#222" stroke-width="1.5"/><circle cx="381.8" cy="100.8" r="1.65" fill="#000"/><circle cx="397.9" cy="48.6" r="1.65" fill="#000"/><circle cx="399.9" cy="47.5" r="1.65" fill="#000"/><circle cx="393.6" cy="58.1" r="1.65" fill="#000"/><circle cx="400.1" cy="56.6" r="1.65" fill="#000"/><circle cx="397.6" cy="59.1" r="1.65" fill="#000"/><circle cx="395.6" cy="60.6" r="1.65" fill="#000"/><circle cx="397.6" cy="61.6" r="1.65" fill="#000"/><circle cx="397.9" cy="64.3" r="1.65" fill="#000"/><circle cx="397.9" cy="70.2" r="1.65" fill="#000"/><circle cx="397.9" cy="85.3" r="1.65" fill="#000"/><circle cx="414.2" cy="72.4" r="1.65" fill="#000"/><circle cx="416.4" cy="79.9" r="1.65" fill="#000"/><circle cx="414.2" cy="84" r="1.65" fill="#000"/><circle cx="414.2" cy="91.8" r="1.65" fill="#000"/><circle cx="414.2" cy="97.3" r="1.65" fill="#000"/><circle cx="414.2" cy="103.2" r="1.65" fill="#000"/><circle cx="430.3" cy="100.8" r="1.65" fill="#000"/><line x1="348.6" y1="154" x2="348.6" y2="166.2" stroke="#000" stroke-width="1.25"/><path d="M348.6 148.3L345.8 154.5L351.4 154.5Z" fill="#000"/><text x="358.39" y="174.5" font-size="7.58" font-weight="bold" textLength="81.49" lengthAdjust="spacingAndGlyphs" fill="#111">Days after vaccination</text><text x="291.1" y="34" font-size="13.9" font-weight="bold" fill="#000">E</text><text x="0" y="0" font-size="8.11" font-weight="bold" transform="translate(307.4 116.41) rotate(-90)" textLength="63.02" lengthAdjust="spacingAndGlyphs" fill="#111">Rabies-IgG-ASCs</text><text x="0" y="0" font-size="7.71" font-weight="bold" transform="translate(318.7 110.98) rotate(-90)" textLength="51.28" lengthAdjust="spacingAndGlyphs" fill="#111">per&#160;10<tspan font-size="4.78" dy="-3.24">6</tspan><tspan dy="3.24">&#160;PBMCs</tspan></text></g>
<g id="pF"><line x1="342.25" y1="269.4" x2="454.25" y2="269.4" stroke="#4a4a4a" stroke-width="1"/><line x1="341.25" y1="197.8" x2="341.25" y2="292" stroke="#000" stroke-width="1.5"/><line x1="337.05" y1="291" x2="341.25" y2="291" stroke="#000" stroke-width="1.3"/><text x="337.55" y="293.56" font-size="6.4" font-weight="bold" text-anchor="end" textLength="3.3" lengthAdjust="spacingAndGlyphs" fill="#000">1</text><line x1="337.05" y1="260.17" x2="341.25" y2="260.17" stroke="#000" stroke-width="1.3"/><text x="337.55" y="262.73" font-size="6.4" font-weight="bold" text-anchor="end" textLength="6.6" lengthAdjust="spacingAndGlyphs" fill="#000">10</text><line x1="337.05" y1="229.33" x2="341.25" y2="229.33" stroke="#000" stroke-width="1.3"/><text x="337.55" y="231.89" font-size="6.4" font-weight="bold" text-anchor="end" textLength="9.9" lengthAdjust="spacingAndGlyphs" fill="#000">100</text><line x1="337.05" y1="198.5" x2="341.25" y2="198.5" stroke="#000" stroke-width="1.3"/><text x="337.55" y="201.06" font-size="6.4" font-weight="bold" text-anchor="end" textLength="13.2" lengthAdjust="spacingAndGlyphs" fill="#000">1000</text><line x1="340.5" y1="291" x2="456.75" y2="291" stroke="#000" stroke-width="1.9"/><line x1="349.2" y1="291" x2="349.2" y2="294.6" stroke="#000" stroke-width="1.3"/><path d="M343.6 291.3Q345.3 288.1 346.3 288.1L352.1 288.1Q353.1 288.1 354.8 291.3Z" fill="#000"/><text x="351.4" y="300.9" font-size="6.5" font-weight="bold" text-anchor="end" transform="rotate(-45 351.4 300.9)" fill="#000">d0</text><line x1="365.55" y1="291" x2="365.55" y2="294.6" stroke="#000" stroke-width="1.3"/><path d="M359.95 291.3Q361.65 288.1 362.65 288.1L368.45 288.1Q369.45 288.1 371.15 291.3Z" fill="#000"/><text x="367.75" y="300.9" font-size="6.5" font-weight="bold" text-anchor="end" transform="rotate(-45 367.75 300.9)" fill="#000">d2</text><line x1="381.9" y1="291" x2="381.9" y2="294.6" stroke="#000" stroke-width="1.3"/><path d="M376.3 291.3Q378 288.1 379 288.1L384.8 288.1Q385.8 288.1 387.5 291.3Z" fill="#000"/><text x="384.1" y="300.9" font-size="6.5" font-weight="bold" text-anchor="end" transform="rotate(-45 384.1 300.9)" fill="#000">d4</text><line x1="398.25" y1="291" x2="398.25" y2="294.6" stroke="#000" stroke-width="1.3"/><path d="M395.85 291.3Q396.85 288.4 397.45 288.4L399.05 288.4Q399.65 288.4 400.65 291.3Z" fill="#000"/><text x="400.45" y="300.9" font-size="6.5" font-weight="bold" text-anchor="end" transform="rotate(-45 400.45 300.9)" fill="#000">d7</text><line x1="414.6" y1="291" x2="414.6" y2="294.6" stroke="#000" stroke-width="1.3"/><path d="M409 291.3Q410.7 288.1 411.7 288.1L417.5 288.1Q418.5 288.1 420.2 291.3Z" fill="#000"/><text x="416.8" y="300.9" font-size="6.5" font-weight="bold" text-anchor="end" transform="rotate(-45 416.8 300.9)" fill="#000">d10</text><line x1="430.95" y1="291" x2="430.95" y2="294.6" stroke="#000" stroke-width="1.3"/><path d="M425.35 291.3Q427.05 288.1 428.05 288.1L433.85 288.1Q434.85 288.1 436.55 291.3Z" fill="#000"/><text x="433.15" y="300.9" font-size="6.5" font-weight="bold" text-anchor="end" transform="rotate(-45 433.15 300.9)" fill="#000">d14</text><line x1="447.3" y1="291" x2="447.3" y2="294.6" stroke="#000" stroke-width="1.3"/><path d="M441.7 291.3Q443.4 288.1 444.4 288.1L450.2 288.1Q451.2 288.1 452.9 291.3Z" fill="#000"/><text x="449.5" y="300.9" font-size="6.5" font-weight="bold" text-anchor="end" transform="rotate(-45 449.5 300.9)" fill="#000">d28</text><line x1="392.7" y1="249.7" x2="404.2" y2="249.7" stroke="#222" stroke-width="1.5"/><circle cx="398.1" cy="229.9" r="1.65" fill="#000"/><circle cx="393.8" cy="238.4" r="1.65" fill="#000"/><circle cx="398.1" cy="239.3" r="1.65" fill="#000"/><circle cx="400.2" cy="242.2" r="1.65" fill="#000"/><circle cx="398.1" cy="244.7" r="1.65" fill="#000"/><circle cx="398.1" cy="256.8" r="1.65" fill="#000"/><circle cx="398.1" cy="261.2" r="1.65" fill="#000"/><circle cx="398.1" cy="268.9" r="1.65" fill="#000"/><circle cx="410.2" cy="263.5" r="1.65" fill="#000"/><circle cx="414.4" cy="265.5" r="1.65" fill="#000"/><line x1="348.5" y1="314.3" x2="348.5" y2="326.7" stroke="#000" stroke-width="1.25"/><path d="M348.5 308.8L345.7 314.8L351.3 314.8Z" fill="#000"/><text x="358.39" y="335.5" font-size="7.58" font-weight="bold" textLength="81.49" lengthAdjust="spacingAndGlyphs" fill="#111">Days after vaccination</text><text x="290.8" y="191.9" font-size="13.9" font-weight="bold" fill="#000">F</text><text x="0" y="0" font-size="8.14" font-weight="bold" transform="translate(307.4 276.41) rotate(-90)" textLength="62.82" lengthAdjust="spacingAndGlyphs" fill="#111">Rabies-IgA-ASCs</text><text x="0" y="0" font-size="8.07" font-weight="bold" transform="translate(318.5 271.8) rotate(-90)" textLength="53.61" lengthAdjust="spacingAndGlyphs" fill="#111">per&#160;10<tspan font-size="5" dy="-3.39">6</tspan><tspan dy="3.39">&#160;PBMCs</tspan></text></g>
<g id="pG"><line x1="342" y1="435.9" x2="451.75" y2="435.9" stroke="#6a6a6a" stroke-width="1.2"/><line x1="341" y1="362.8" x2="341" y2="459" stroke="#000" stroke-width="1.5"/><line x1="336.8" y1="458" x2="341" y2="458" stroke="#000" stroke-width="1.3"/><text x="337.3" y="460.56" font-size="6.4" font-weight="bold" text-anchor="end" textLength="3.35" lengthAdjust="spacingAndGlyphs" fill="#000">1</text><line x1="336.8" y1="426.5" x2="341" y2="426.5" stroke="#000" stroke-width="1.3"/><text x="337.3" y="429.06" font-size="6.4" font-weight="bold" text-anchor="end" textLength="6.7" lengthAdjust="spacingAndGlyphs" fill="#000">10</text><line x1="336.8" y1="395" x2="341" y2="395" stroke="#000" stroke-width="1.3"/><text x="337.3" y="397.56" font-size="6.4" font-weight="bold" text-anchor="end" textLength="10.05" lengthAdjust="spacingAndGlyphs" fill="#000">100</text><line x1="336.8" y1="363.5" x2="341" y2="363.5" stroke="#000" stroke-width="1.3"/><text x="337.3" y="366.06" font-size="6.4" font-weight="bold" text-anchor="end" textLength="13.4" lengthAdjust="spacingAndGlyphs" fill="#000">1000</text><line x1="340.25" y1="458" x2="451.9" y2="458" stroke="#000" stroke-width="1.9"/><line x1="349.2" y1="458" x2="349.2" y2="461.6" stroke="#000" stroke-width="1.3"/><path d="M343.6 458.3Q345.3 455.1 346.3 455.1L352.1 455.1Q353.1 455.1 354.8 458.3Z" fill="#000"/><text x="351.4" y="467.9" font-size="6.5" font-weight="bold" text-anchor="end" transform="rotate(-45 351.4 467.9)" fill="#000">d0</text><line x1="364.95" y1="458" x2="364.95" y2="461.6" stroke="#000" stroke-width="1.3"/><path d="M359.35 458.3Q361.05 455.1 362.05 455.1L367.85 455.1Q368.85 455.1 370.55 458.3Z" fill="#000"/><text x="367.15" y="467.9" font-size="6.5" font-weight="bold" text-anchor="end" transform="rotate(-45 367.15 467.9)" fill="#000">d2</text><line x1="380.7" y1="458" x2="380.7" y2="461.6" stroke="#000" stroke-width="1.3"/><path d="M375.1 458.3Q376.8 455.1 377.8 455.1L383.6 455.1Q384.6 455.1 386.3 458.3Z" fill="#000"/><text x="382.9" y="467.9" font-size="6.5" font-weight="bold" text-anchor="end" transform="rotate(-45 382.9 467.9)" fill="#000">d4</text><line x1="396.45" y1="458" x2="396.45" y2="461.6" stroke="#000" stroke-width="1.3"/><path d="M390.85 458.3Q392.55 455.1 393.55 455.1L399.35 455.1Q400.35 455.1 402.05 458.3Z" fill="#000"/><text x="398.65" y="467.9" font-size="6.5" font-weight="bold" text-anchor="end" transform="rotate(-45 398.65 467.9)" fill="#000">d7</text><line x1="412.2" y1="458" x2="412.2" y2="461.6" stroke="#000" stroke-width="1.3"/><path d="M406.6 458.3Q408.3 455.1 409.3 455.1L415.1 455.1Q416.1 455.1 417.8 458.3Z" fill="#000"/><text x="414.4" y="467.9" font-size="6.5" font-weight="bold" text-anchor="end" transform="rotate(-45 414.4 467.9)" fill="#000">d10</text><line x1="427.95" y1="458" x2="427.95" y2="461.6" stroke="#000" stroke-width="1.3"/><path d="M422.35 458.3Q424.05 455.1 425.05 455.1L430.85 455.1Q431.85 455.1 433.55 458.3Z" fill="#000"/><text x="430.15" y="467.9" font-size="6.5" font-weight="bold" text-anchor="end" transform="rotate(-45 430.15 467.9)" fill="#000">d14</text><line x1="443.7" y1="458" x2="443.7" y2="461.6" stroke="#000" stroke-width="1.3"/><path d="M438.1 458.3Q439.8 455.1 440.8 455.1L446.6 455.1Q447.6 455.1 449.3 458.3Z" fill="#000"/><text x="445.9" y="467.9" font-size="6.5" font-weight="bold" text-anchor="end" transform="rotate(-45 445.9 467.9)" fill="#000">d28</text><circle cx="364.4" cy="431.9" r="1.65" fill="#000"/><circle cx="396" cy="411.3" r="1.65" fill="#000"/><circle cx="396" cy="435.9" r="1.65" fill="#000"/><circle cx="411.6" cy="435.9" r="1.65" fill="#000"/><line x1="348.9" y1="482.3" x2="348.9" y2="494.4" stroke="#000" stroke-width="1.25"/><path d="M348.9 476.3L346.1 482.8L351.7 482.8Z" fill="#000"/><text x="355.27" y="503.5" font-size="7.83" font-weight="bold" textLength="84.12" lengthAdjust="spacingAndGlyphs" fill="#111">Days after vaccination</text><text x="290.3" y="359.8" font-size="13.9" font-weight="bold" fill="#000">G</text><text x="0" y="0" font-size="8.28" font-weight="bold" transform="translate(306.5 443.32) rotate(-90)" textLength="64.74" lengthAdjust="spacingAndGlyphs" fill="#111">Rabies-IgM-ASCs</text><text x="0" y="0" font-size="8.34" font-weight="bold" transform="translate(318 438.62) rotate(-90)" textLength="55.44" lengthAdjust="spacingAndGlyphs" fill="#111">per&#160;10<tspan font-size="5.17" dy="-3.5">6</tspan><tspan dy="3.5">&#160;PBMCs</tspan></text></g>
<g id="pH"><line x1="342.25" y1="607.9" x2="454.25" y2="607.9" stroke="#9a9a9a" stroke-width="1.5"/><line x1="341.25" y1="537.1" x2="341.25" y2="630.1" stroke="#000" stroke-width="1.5"/><line x1="337.05" y1="629.1" x2="341.25" y2="629.1" stroke="#000" stroke-width="1.3"/><text x="337.55" y="631.66" font-size="6.4" font-weight="bold" text-anchor="end" textLength="3.25" lengthAdjust="spacingAndGlyphs" fill="#000">1</text><line x1="337.05" y1="598.67" x2="341.25" y2="598.67" stroke="#000" stroke-width="1.3"/><text x="337.55" y="601.23" font-size="6.4" font-weight="bold" text-anchor="end" textLength="6.5" lengthAdjust="spacingAndGlyphs" fill="#000">10</text><line x1="337.05" y1="568.23" x2="341.25" y2="568.23" stroke="#000" stroke-width="1.3"/><text x="337.55" y="570.79" font-size="6.4" font-weight="bold" text-anchor="end" textLength="9.75" lengthAdjust="spacingAndGlyphs" fill="#000">100</text><line x1="337.05" y1="537.8" x2="341.25" y2="537.8" stroke="#000" stroke-width="1.3"/><text x="337.55" y="540.36" font-size="6.4" font-weight="bold" text-anchor="end" textLength="13" lengthAdjust="spacingAndGlyphs" fill="#000">1000</text><line x1="340.5" y1="629.1" x2="455" y2="629.1" stroke="#000" stroke-width="1.9"/><line x1="349.2" y1="629.1" x2="349.2" y2="632.7" stroke="#000" stroke-width="1.3"/><rect x="346.2" y="626.1" width="6" height="3" fill="#000"/><text x="351.4" y="639" font-size="6.5" font-weight="bold" text-anchor="end" transform="rotate(-45 351.4 639)" fill="#000">d0</text><line x1="365.5" y1="629.1" x2="365.5" y2="632.7" stroke="#000" stroke-width="1.3"/><rect x="362.5" y="626.1" width="6" height="3" fill="#000"/><text x="367.7" y="639" font-size="6.5" font-weight="bold" text-anchor="end" transform="rotate(-45 367.7 639)" fill="#000">d2</text><line x1="381.8" y1="629.1" x2="381.8" y2="632.7" stroke="#000" stroke-width="1.3"/><rect x="378.8" y="626.1" width="6" height="3" fill="#000"/><text x="384" y="639" font-size="6.5" font-weight="bold" text-anchor="end" transform="rotate(-45 384 639)" fill="#000">d4</text><line x1="398.1" y1="629.1" x2="398.1" y2="632.7" stroke="#000" stroke-width="1.3"/><path d="M395.7 629.4Q396.7 626.5 397.3 626.5L398.9 626.5Q399.5 626.5 400.5 629.4Z" fill="#000"/><text x="400.3" y="639" font-size="6.5" font-weight="bold" text-anchor="end" transform="rotate(-45 400.3 639)" fill="#000">d7</text><line x1="414.4" y1="629.1" x2="414.4" y2="632.7" stroke="#000" stroke-width="1.3"/><text x="416.6" y="639" font-size="6.5" font-weight="bold" text-anchor="end" transform="rotate(-45 416.6 639)" fill="#000">d10</text><line x1="430.7" y1="629.1" x2="430.7" y2="632.7" stroke="#000" stroke-width="1.3"/><text x="432.9" y="639" font-size="6.5" font-weight="bold" text-anchor="end" transform="rotate(-45 432.9 639)" fill="#000">d14</text><line x1="447" y1="629.1" x2="447" y2="632.7" stroke="#000" stroke-width="1.3"/><text x="449.2" y="639" font-size="6.5" font-weight="bold" text-anchor="end" transform="rotate(-45 449.2 639)" fill="#000">d28</text><line x1="344" y1="599.4" x2="355.2" y2="599.4" stroke="#222" stroke-width="1.5"/><line x1="359.7" y1="600.4" x2="371.2" y2="600.4" stroke="#222" stroke-width="1.5"/><line x1="376" y1="601.5" x2="387.3" y2="601.5" stroke="#222" stroke-width="1.5"/><line x1="392" y1="572.5" x2="403.75" y2="572.5" stroke="#222" stroke-width="1.5"/><line x1="408" y1="567.5" x2="419.5" y2="567.5" stroke="#222" stroke-width="1.5"/><line x1="423.75" y1="580.5" x2="436.25" y2="580.5" stroke="#222" stroke-width="1.5"/><line x1="440" y1="578" x2="452" y2="578" stroke="#222" stroke-width="1.5"/><circle cx="344.8" cy="582.8" r="1.65" fill="#000"/><circle cx="348.8" cy="584.2" r="1.65" fill="#000"/><circle cx="351.3" cy="575.8" r="1.65" fill="#000"/><circle cx="348.8" cy="577.8" r="1.65" fill="#000"/><circle cx="348.8" cy="596.5" r="1.65" fill="#000"/><circle cx="348.8" cy="602" r="1.65" fill="#000"/><circle cx="365" cy="576.25" r="1.65" fill="#000"/><circle cx="365" cy="583.75" r="1.65" fill="#000"/><circle cx="367" cy="583" r="1.65" fill="#000"/><circle cx="365" cy="599.5" r="1.65" fill="#000"/><circle cx="377" cy="574.5" r="1.65" fill="#000"/><circle cx="381.25" cy="571.25" r="1.65" fill="#000"/><circle cx="381.25" cy="577.5" r="1.65" fill="#000"/><circle cx="381.25" cy="596.25" r="1.65" fill="#000"/><circle cx="381.25" cy="607.5" r="1.65" fill="#000"/><circle cx="397" cy="538.75" r="1.65" fill="#000"/><circle cx="395.5" cy="554.5" r="1.65" fill="#000"/><circle cx="399.5" cy="555" r="1.65" fill="#000"/><circle cx="395" cy="572.5" r="1.65" fill="#000"/><circle cx="397.5" cy="574.5" r="1.65" fill="#000"/><circle cx="399.5" cy="570.5" r="1.65" fill="#000"/><circle cx="397" cy="587.5" r="1.65" fill="#000"/><circle cx="397" cy="595" r="1.65" fill="#000"/><circle cx="413.75" cy="537" r="1.65" fill="#000"/><circle cx="413.75" cy="548.25" r="1.65" fill="#000"/><circle cx="413.75" cy="556.25" r="1.65" fill="#000"/><circle cx="413.75" cy="562.5" r="1.65" fill="#000"/><circle cx="409.5" cy="565" r="1.65" fill="#000"/><circle cx="416.25" cy="567" r="1.65" fill="#000"/><circle cx="413.75" cy="573.75" r="1.65" fill="#000"/><circle cx="413.75" cy="578.75" r="1.65" fill="#000"/><circle cx="409.5" cy="584.25" r="1.65" fill="#000"/><circle cx="413.75" cy="585" r="1.65" fill="#000"/><circle cx="413.75" cy="593" r="1.65" fill="#000"/><circle cx="429.5" cy="540" r="1.65" fill="#000"/><circle cx="431.25" cy="550.75" r="1.65" fill="#000"/><circle cx="429.5" cy="554.5" r="1.65" fill="#000"/><circle cx="429.5" cy="577" r="1.65" fill="#000"/><circle cx="431.25" cy="578.75" r="1.65" fill="#000"/><circle cx="426.25" cy="582" r="1.65" fill="#000"/><circle cx="429.5" cy="586.25" r="1.65" fill="#000"/><circle cx="429.5" cy="598" r="1.65" fill="#000"/><circle cx="431.25" cy="598" r="1.65" fill="#000"/><circle cx="442" cy="544.5" r="1.65" fill="#000"/><circle cx="445.5" cy="548.75" r="1.65" fill="#000"/><circle cx="445.5" cy="558" r="1.65" fill="#000"/><circle cx="442" cy="571.25" r="1.65" fill="#000"/><circle cx="445.5" cy="575" r="1.65" fill="#000"/><circle cx="442" cy="584.5" r="1.65" fill="#000"/><circle cx="445.5" cy="585" r="1.65" fill="#000"/><circle cx="447.5" cy="582.5" r="1.65" fill="#000"/><circle cx="445.5" cy="595" r="1.65" fill="#000"/><line x1="348.4" y1="652.5" x2="348.4" y2="664.1" stroke="#000" stroke-width="1.25"/><path d="M348.4 647L345.6 653L351.2 653Z" fill="#000"/><text x="358.4" y="673.2" font-size="7.37" font-weight="bold" textLength="79.16" lengthAdjust="spacingAndGlyphs" fill="#111">Days after vaccination</text><text x="290.9" y="526.7" font-size="13.9" font-weight="bold" fill="#000">H</text><text x="0" y="0" font-size="7.87" font-weight="bold" transform="translate(307.5 621.29) rotate(-90)" textLength="74.3" lengthAdjust="spacingAndGlyphs" fill="#111">Rabies-IgG-ASCs&#160;per</text><text x="0" y="0" font-size="7.86" font-weight="bold" transform="translate(319.1 626.76) rotate(-90)" textLength="88.56" lengthAdjust="spacingAndGlyphs" fill="#111">10<tspan font-size="4.87" dy="-3.3">6</tspan><tspan dy="3.3">&#160;cultured&#160;lymphocytes</tspan></text></g>
<text x="130.39" y="10.5" font-size="13.9" textLength="79.53" lengthAdjust="spacingAndGlyphs" fill="#111">Naive group</text>
<text x="353.92" y="10.6" font-size="13.9" textLength="96.1" lengthAdjust="spacingAndGlyphs" fill="#111">Immune group</text>
<text x="468.43" y="98.7" font-size="14.2" textLength="49.43" lengthAdjust="spacingAndGlyphs" fill="#111">IgG-PC</text>
<text x="468.42" y="261.7" font-size="14.2" textLength="48.15" lengthAdjust="spacingAndGlyphs" fill="#111">IgA-PC</text>
<text x="468.42" y="427.6" font-size="14.2" textLength="50.75" lengthAdjust="spacingAndGlyphs" fill="#111">IgM-PC</text>
<text x="468.43" y="601.8" font-size="14.2" textLength="51.93" lengthAdjust="spacingAndGlyphs" fill="#111">IgG-MC</text>
</svg></body></html>
